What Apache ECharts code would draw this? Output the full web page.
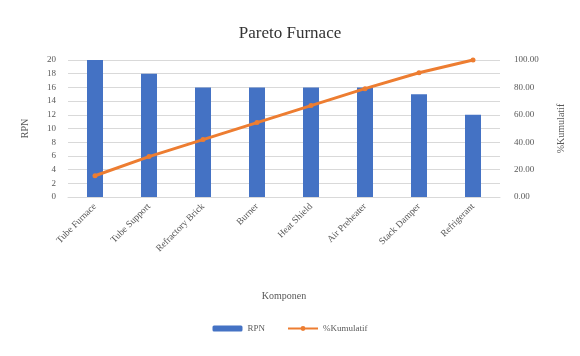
<!DOCTYPE html>
<html>
<head>
<meta charset="utf-8">
<script src="https://cdn.jsdelivr.net/npm/echarts@6/dist/echarts.min.js"></script>
<style>
  html, body { margin: 0; padding: 0; background: #fff; }
  #chart { width: 580px; height: 356px; }
</style>
</head>
<body>
<div id="chart"></div>
<script>
// data
const komponen = ['Tube Furnace', 'Tube Support', 'Refractory Brick', 'Burner', 'Heat Shield', 'Air Preheater', 'Stack Damper', 'Refrigerant'];
const rpn = [20, 18, 16, 16, 16, 16, 15, 12];
const kumulatif = [15.5, 29.5, 41.9, 54.3, 66.7, 79.1, 90.7, 100];

const myChart = echarts.init(document.getElementById('chart'));

const labelColor = '#595959';
const font = 'Liberation Serif';

const option = {
    backgroundColor: '#fff',
    animation: false,
    title: {
        text: 'Pareto Furnace',
        left: 'center',
        top: 20,
        textStyle: { fontFamily: font, fontSize: 17, fontWeight: 'normal', color: '#333' }
    },
    legend: {
        bottom: 18,
        left: 'center',
        itemGap: 22,
        itemWidth: 30,
        itemHeight: 6,
        textStyle: { fontFamily: font, fontSize: 9, color: labelColor },
        data: ['RPN', '%Kumulatif']
    },
    grid: { left: 68, right: 80, top: 60, bottom: 159 },
    xAxis: {
        type: 'category',
        data: komponen,
        name: 'Komponen',
        nameLocation: 'middle',
        nameGap: 94,
        nameTextStyle: { fontFamily: font, fontSize: 10, color: labelColor },
        axisTick: { show: false },
        axisLine: { lineStyle: { color: '#d9d9d9' } },
        axisLabel: { rotate: 45, fontFamily: font, fontSize: 9.5, color: labelColor, interval: 0, margin: 8 }
    },
    yAxis: [
        {
            type: 'value',
            min: 0, max: 20, interval: 2,
            name: 'RPN',
            nameLocation: 'middle',
            nameRotate: 90,
            nameGap: 38,
            nameTextStyle: { fontFamily: font, fontSize: 10, color: labelColor },
            axisLabel: { fontFamily: font, fontSize: 9, color: labelColor, margin: 12 },
            splitLine: { lineStyle: { color: '#d9d9d9' } },
            axisLine: { show: false },
            axisTick: { show: false }
        },
        {
            type: 'value',
            min: 0, max: 100, interval: 20,
            name: '%Kumulatif',
            nameLocation: 'middle',
            nameRotate: 90,
            nameGap: 56,
            nameTextStyle: { fontFamily: font, fontSize: 10, color: labelColor },
            axisLabel: {
                fontFamily: font, fontSize: 9, color: labelColor, margin: 14,
                formatter: v => v.toFixed(2)
            },
            splitLine: { show: false },
            axisLine: { show: false },
            axisTick: { show: false }
        }
    ],
    series: [
        {
            name: 'RPN',
            type: 'bar',
            data: rpn,
            barWidth: 16,
            itemStyle: { color: '#4472C4' }
        },
        {
            name: '%Kumulatif',
            type: 'line',
            yAxisIndex: 1,
            data: kumulatif,
            symbol: 'circle',
            symbolSize: 5,
            lineStyle: { color: '#ED7D31', width: 3 },
            itemStyle: { color: '#ED7D31' }
        }
    ]
};

myChart.setOption(option);
</script>
</body>
</html>
